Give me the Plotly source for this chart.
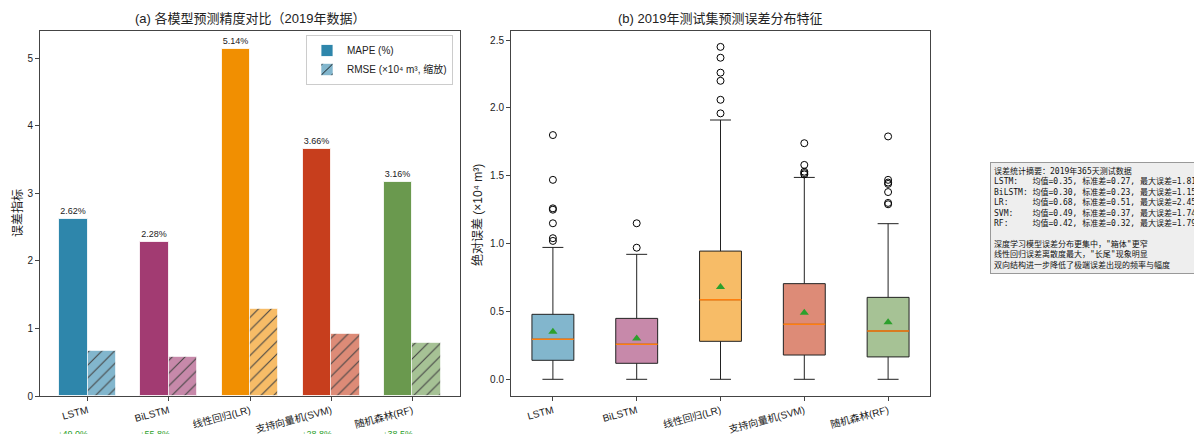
import numpy as np
import plotly.graph_objects as go

# ---------------- data ----------------
models = ["LSTM", "BiLSTM", "线性回归(LR)", "支持向量机(SVM)", "随机森林(RF)"]
short_names = ["LSTM", "BiLSTM", "LR", "SVM", "RF"]
colors = ["#2E86AB", "#A23B72", "#F18F01", "#C73E1D", "#6A994E"]

mape = [2.62, 2.28, 5.14, 3.66, 3.16]            # %
rmse_scaled = [0.66, 0.57, 1.28, 0.92, 0.79]     # ×10⁴ m³ (scaled)
improve_vs_lr = [49.0, 55.8, None, 28.8, 38.5]   # MAPE reduction relative to LR, %

# absolute-error distribution (×10⁴ m³)
q1 = [0.14, 0.118, 0.28, 0.179, 0.165]
median = [0.295, 0.258, 0.587, 0.405, 0.356]
q3 = [0.479, 0.449, 0.945, 0.705, 0.604]
whisker_lo = [0.0, 0.0, 0.0, 0.0, 0.0]
whisker_hi = [0.972, 0.921, 1.911, 1.488, 1.147]
mean_err = [0.35, 0.30, 0.68, 0.49, 0.42]
std_err = [0.27, 0.23, 0.51, 0.37, 0.32]
max_err = [1.81, 1.15, 2.45, 1.74, 1.79]
outliers = [
    [1.80, 1.47, 1.26, 1.25, 1.15, 1.04, 1.02],
    [1.15, 0.97],
    [2.45, 2.37, 2.26, 2.20, 2.06, 1.96],
    [1.74, 1.58, 1.53, 1.52, 1.51],
    [1.79, 1.47, 1.45, 1.44, 1.38, 1.30, 1.29],
]

FONT = "Liberation Sans, Arial, Noto Sans CJK SC, sans-serif"
MONO = "DejaVu Sans Mono, Noto Sans CJK SC, monospace"


def rgba(hex_color, a):
    h = hex_color.lstrip("#")
    r, g, b = int(h[0:2], 16), int(h[2:4], 16), int(h[4:6], 16)
    return f"rgba({r},{g},{b},{a})"


fig = go.Figure()

# ---------------- (a) grouped bars ----------------
idx = np.arange(len(models))
bw = 0.35

fig.add_trace(go.Bar(
    x=idx - bw / 2, y=mape, width=bw, name="MAPE (%)",
    marker=dict(color=colors, line=dict(color="rgba(255,255,255,0.8)", width=1)),
    text=[f"{v:.2f}%" for v in mape], textposition="outside",
    textfont=dict(size=9, color="#222", family=FONT), cliponaxis=False,
    xaxis="x", yaxis="y",
))
fig.add_trace(go.Bar(
    x=idx + bw / 2, y=rmse_scaled, width=bw, name="RMSE (×10⁴ m³, 缩放)",
    marker=dict(
        color=[rgba(c, 0.6) for c in colors],
        line=dict(color="rgba(255,255,255,0.6)", width=1),
        pattern=dict(shape="/", fgcolor="black", fgopacity=1,
                     size=9, solidity=0.12, fillmode="overlay"),
    ),
    xaxis="x", yaxis="y",
))

# ---------------- (b) box plots ----------------
pos = idx + 1
for i in range(len(models)):
    fig.add_trace(go.Box(
        x=[pos[i]], q1=[q1[i]], median=[median[i]], q3=[q3[i]],
        lowerfence=[whisker_lo[i]], upperfence=[whisker_hi[i]],
        width=0.5, whiskerwidth=0.5, boxpoints=False,
        fillcolor=rgba(colors[i], 0.6), line=dict(color="#222", width=1),
        showlegend=False, hoverinfo="skip", xaxis="x2", yaxis="y2",
    ))
    # median line in orange on top of the box
    fig.add_trace(go.Scatter(
        x=[pos[i] - 0.25, pos[i] + 0.25], y=[median[i], median[i]], mode="lines",
        line=dict(color="#ff7f0e", width=1.5), showlegend=False, hoverinfo="skip",
        xaxis="x2", yaxis="y2",
    ))
    fig.add_trace(go.Scatter(
        x=[pos[i]] * len(outliers[i]), y=outliers[i], mode="markers",
        marker=dict(symbol="circle-open", size=7, color="black", line=dict(width=1)),
        showlegend=False, hoverinfo="skip", xaxis="x2", yaxis="y2",
    ))

fig.add_trace(go.Scatter(
    x=pos, y=mean_err, mode="markers",
    marker=dict(symbol="triangle-up", size=8, color="#2ca02c"),
    showlegend=False, hoverinfo="skip", xaxis="x2", yaxis="y2",
))

# ---------------- layout ----------------
L, R, T, B = 40, 264, 31, 38
W, H = 1194, 434
pw = W - L - R
ph = H - T - B

axis_common = dict(showline=True, mirror=True, linecolor="#444", linewidth=1,
                   ticks="outside", ticklen=4, tickcolor="#444", showgrid=False,
                   zeroline=False, automargin=False,
                   tickfont=dict(size=10, color="#222", family=FONT))

fig.update_layout(
    width=W, height=H, margin=dict(l=L, r=R, t=T, b=B, autoexpand=False),
    paper_bgcolor="white", plot_bgcolor="white",
    font=dict(family=FONT, color="#222"),
    barmode="overlay", bargap=0,
    xaxis=dict(domain=[0, (460 - L) / pw], range=[-0.587, 4.587],
               tickvals=list(idx), ticktext=models, tickangle=-15, **axis_common),
    yaxis=dict(domain=[0, 1], range=[0, 5.4], tickvals=[0, 1, 2, 3, 4, 5], **axis_common),
    xaxis2=dict(domain=[(511 - L) / pw, 1], range=[0.5, 5.5], anchor="y2",
                tickvals=list(pos), ticktext=models, tickangle=-15, **axis_common),
    yaxis2=dict(domain=[0, 1], range=[-0.123, 2.567], anchor="x2",
                tickvals=[0, 0.5, 1.0, 1.5, 2.0, 2.5], tickformat=".1f", **axis_common),
    legend=dict(x=(453 - L) / pw, xanchor="right", y=(396 - 35) / ph, yanchor="top",
                bgcolor="white", bordercolor="#ccc", borderwidth=1,
                font=dict(size=10, family=FONT, color="#222"),
                tracegroupgap=2),
)

ann = []


def label(text, px, py, size=12, angle=0):
    return dict(text=text, x=(px - L) / pw, y=(H - B - py) / ph, xref="paper", yref="paper",
                xanchor="center", yanchor="middle", textangle=angle, showarrow=False,
                font=dict(size=size, family=FONT, color="#222"))


ann.append(label("(a) 各模型预测精度对比（2019年数据）", 250, 19, size=13))
ann.append(label("(b) 2019年测试集预测误差分布特征", 720, 19, size=13))
ann.append(label("误差指标", 18, 213, angle=-90))
ann.append(label("绝对误差 (×10⁴ m³)", 478, 215, angle=-90))

# improvement over LR, written below each model's MAPE bar
for i, v in enumerate(improve_vs_lr):
    if v is None:
        continue
    ann.append(dict(text=f"↓{v:.1f}%", x=idx[i] - bw / 2, y=(H - B - 427) / ph,
                    xref="x", yref="paper", xanchor="center", yanchor="top",
                    showarrow=False, font=dict(size=9, color="#2ca02c", family=FONT)))

lines = ["误差统计摘要：2019年365天测试数据"]
for n, m, s, mx in zip(short_names, mean_err, std_err, max_err):
    lines.append(f"{(n + ':').ljust(8)}均值={m:.2f}, 标准差={s:.2f}, 最大误差={mx:.2f}")
lines.append(" ")
lines.append("深度学习模型误差分布更集中，\"箱体\"更窄")
lines.append("线性回归误差离散度最大，\"长尾\"现象明显")
lines.append("双向结构进一步降低了极端误差出现的频率与幅度")
ann.append(dict(text="<br>".join(lines), x=(990 - L) / pw, y=(H - B - 162) / ph,
                xref="paper", yref="paper", xanchor="left", yanchor="top", align="left",
                showarrow=False, bgcolor="#eeeeee", bordercolor="#999", borderwidth=1,
                borderpad=3, font=dict(size=8, family=MONO, color="#111")))

fig.update_layout(annotations=ann)

fig.write_html("out.html")
